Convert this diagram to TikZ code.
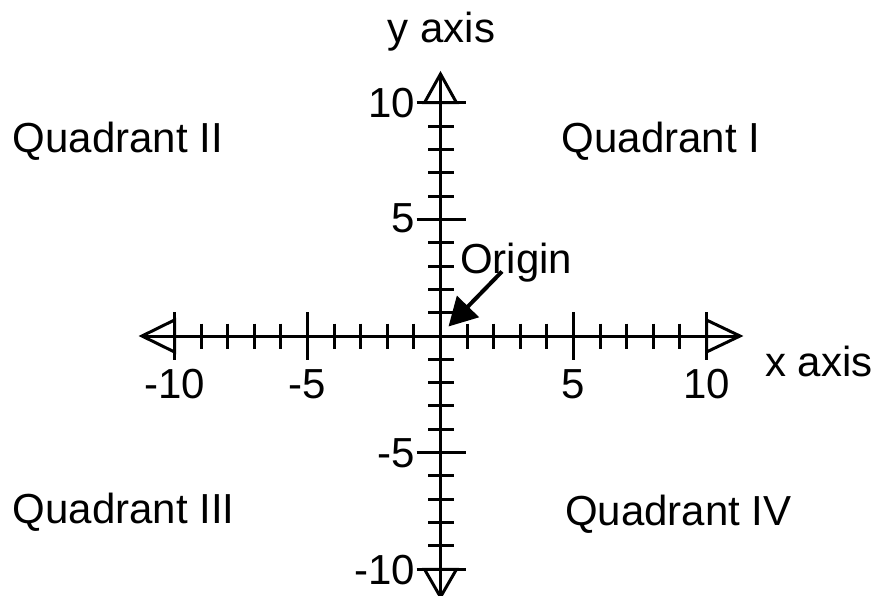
\documentclass[tikz,border=0pt]{standalone}
\usepackage{fontspec}
\setmainfont{Liberation Sans}
\usetikzlibrary{arrows.meta}
\begin{document}
\begin{tikzpicture}[x=1pt,y=-1pt,
  lbl/.style={inner sep=0pt, font=\fontsize{42}{50}\selectfont},
  axisline/.style={line width=3pt},
  tickline/.style={line width=3pt},
  headtri/.style={line width=3pt, line join=miter},
  pointer/.style={line width=4pt, -{Triangle[length=28pt,width=30pt]}}]
\useasboundingbox (0,0) rectangle (873,596);
\def\ox{440.5}\def\oy{336}\def\ux{26.6}\def\uy{23.33}
% axes
\coordinate (xl) at (142,336);
\coordinate (xr) at (740,336);
\coordinate (yt) at (440.5,74);
\coordinate (yb) at (440.5,597);
\coordinate (O) at (448.5,326.5);
\draw[axisline] (xl) -- (xr);
\draw[axisline] (yt) -- (yb);
% arrowheads (open triangles)
\draw[headtri] (174.5,320) -- (xl) -- (174.5,352) -- cycle;
\draw[headtri] (706.5,320) -- (xr) -- (706.5,352) -- cycle;
\draw[headtri] (424.5,102.7) -- (yt) -- (456.5,102.7) -- cycle;
\draw[headtri] (424.5,569.3) -- (yb) -- (456.5,569.3) -- cycle;
% x ticks
\foreach \i in {-9,-8,-7,-6,-4,-3,-2,-1,1,2,3,4,6,7,8,9}
  \draw[tickline] (\ox+\i*\ux,\oy-12.5) -- (\ox+\i*\ux,\oy+12.5);
\foreach \i in {-10,-5,5,10}
  \draw[tickline] (\ox+\i*\ux,\oy-24) -- (\ox+\i*\ux,\oy+24);
% y ticks
\foreach \j in {-9,-8,-7,-6,-4,-3,-2,-1,1,2,3,4,6,7,8,9}
  \draw[tickline] (\ox-12.5,\oy-\j*\uy) -- (\ox+13.5,\oy-\j*\uy);
\foreach \j in {-10,-5,5,10}
  \draw[tickline] (\ox-24,\oy-\j*\uy) -- (\ox+25.5,\oy-\j*\uy);
% x labels
\node[lbl, anchor=base] (xm10) at (174.5,398) {-10};
\node[lbl, anchor=base] (xm5) at (307.5,398) {-5};
\node[lbl, anchor=base] (xp5) at (573.5,398) {5};
\node[lbl, anchor=base] (xp10) at (706.5,398) {10};
% y labels
\node[lbl, anchor=base east] (yp10) at (415.5,117.7) {10};
\node[lbl, anchor=base east] (yp5) at (415.5,232.3) {5};
\node[lbl, anchor=base east] (ym5) at (415.5,467.7) {-5};
\node[lbl, anchor=base east] (ym10) at (415.5,584.3) {-10};
% axis titles
\node[lbl, anchor=base] (ytitle) at (441.5,43) {y axis};
\node[lbl, anchor=base west] (xtitle) at (765,376.5) {x axis};
% quadrants
\node[lbl, anchor=base west] (q2) at (12.5,153) {Quadrant II};
\node[lbl, anchor=base west] (q1) at (561.5,153) {Quadrant I};
\node[lbl, anchor=base west] (q3) at (12.5,523) {Quadrant III};
\node[lbl, anchor=base west] (q4) at (565,525) {Quadrant IV};
% origin
\node[lbl, anchor=base west] (olabel) at (460,273) {Origin};
\coordinate (ostart) at (502,271.5);
\draw[pointer] (ostart) -- (O);
\end{tikzpicture}
\end{document}
